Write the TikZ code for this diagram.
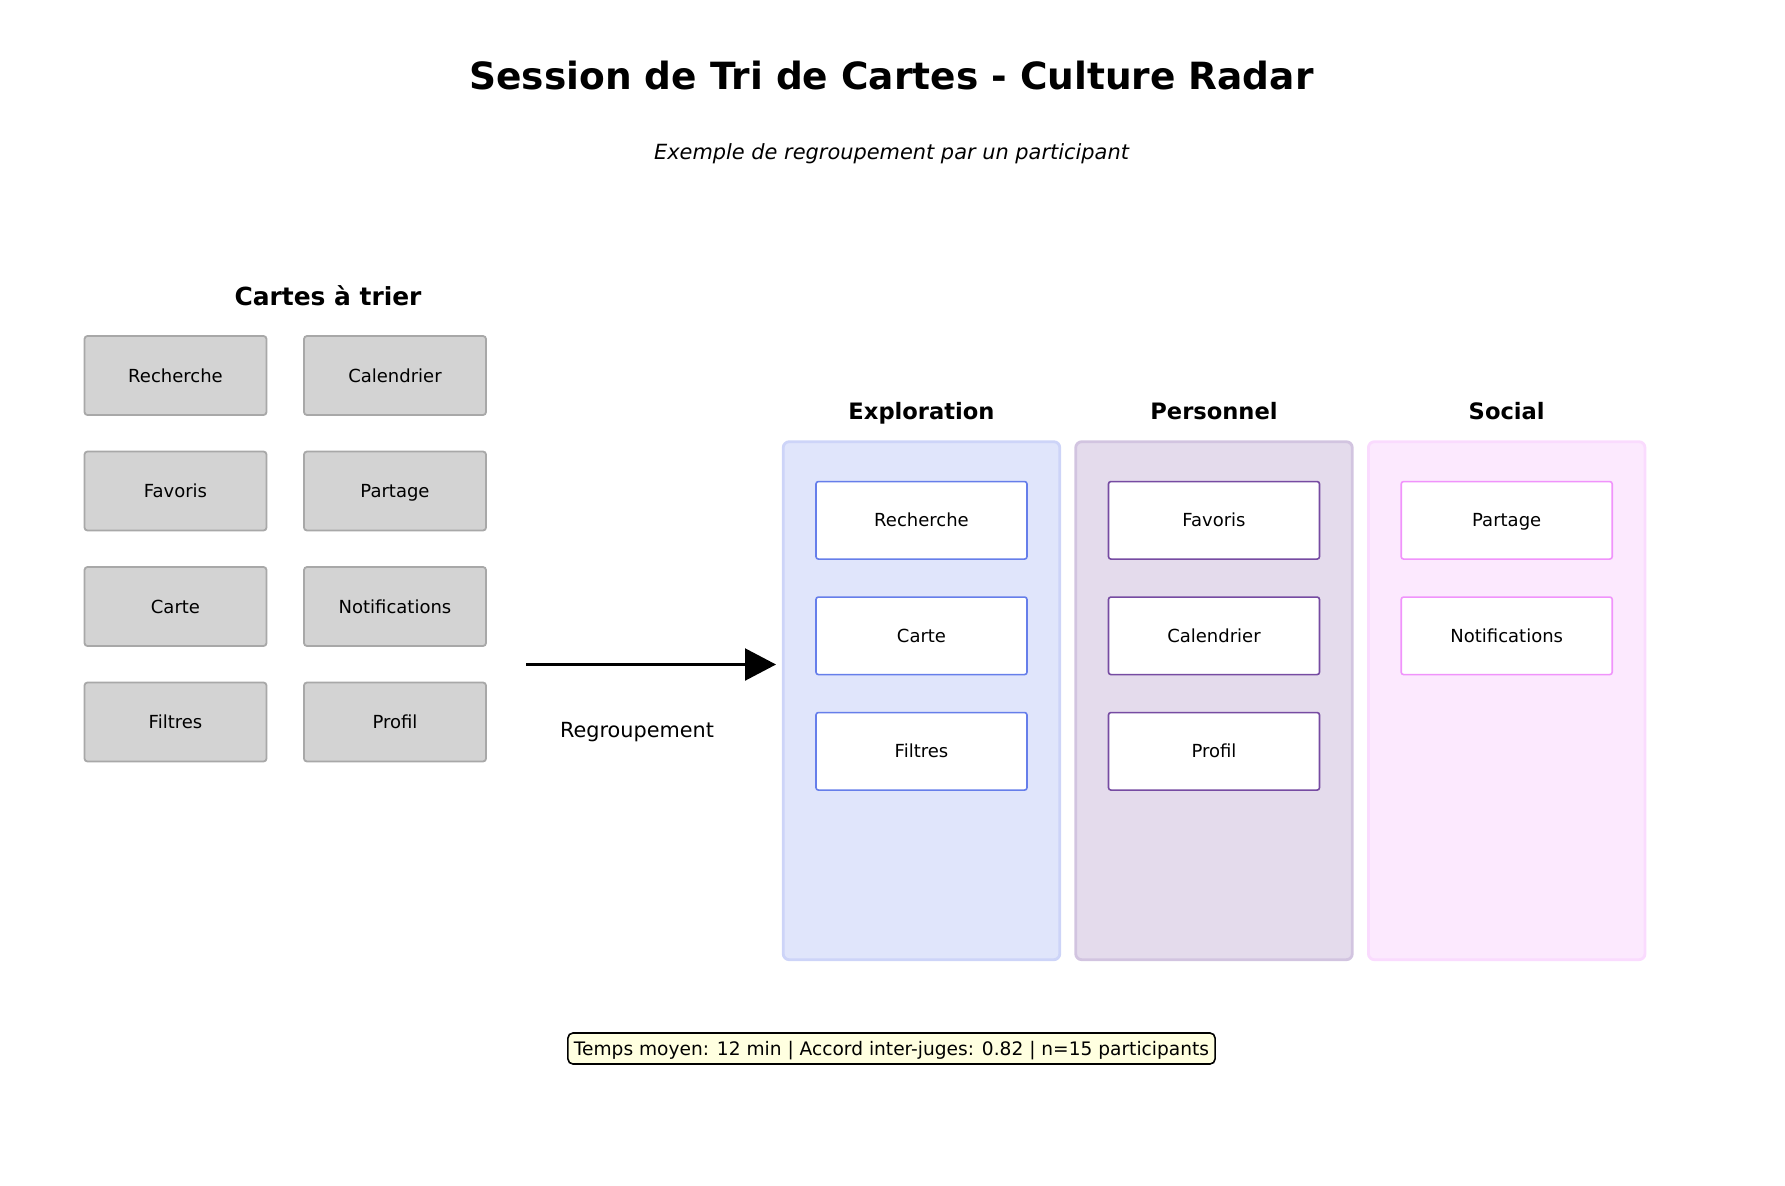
\documentclass[tikz,border=0pt]{standalone}
\usepackage{fontspec}
\setmainfont{DejaVu Sans}
\usetikzlibrary{arrows.meta}

\definecolor{explo}{HTML}{667EEA}
\definecolor{perso}{HTML}{764BA2}
\definecolor{soc}{HTML}{F093FB}
\definecolor{cardgray}{HTML}{D3D3D3}
\definecolor{cardedge}{HTML}{A8A8A8}
\definecolor{notefill}{HTML}{FFFFE0}

\tikzset{
  % labels are centred on their cap height, whatever their descenders
  label/.style 2 args={font=\fontsize{#1}{#1}\selectfont#2, inner sep=0pt,
    text height=0.729*#1 pt, text depth=0pt},
  rawcard/.style={draw=cardedge, fill=cardgray, line width=0.9pt, rounded corners=1.5pt,
    minimum width=91pt, minimum height=39.5pt, inner sep=0pt, outer sep=0pt,
    label={9}{}},
  group/.style={draw=#1!33, fill=#1!20, line width=1.4pt, rounded corners=3pt,
    minimum width=138.3pt, minimum height=259pt, inner sep=0pt, outer sep=0pt},
  sorted/.style={draw=#1, fill=white, line width=0.8pt, rounded corners=1.2pt,
    minimum width=105.5pt, minimum height=38.75pt, inner sep=0pt, outer sep=0pt,
    label={9}{}},
  grouptitle/.style={label={11.3}{\bfseries}},
}

\begin{document}
\begin{tikzpicture}[x=0.5pt, y=-0.5pt]
\useasboundingbox (0,0) rectangle (1785,1185);

% headings
\node[label={18.75}{\bfseries}] (title) at (891.5,76) {Session de Tri de Cartes - Culture Radar};
\node[label={10.45}{\itshape}] (subtitle) at (891.5,152) {Exemple de regroupement par un participant};

% unsorted cards
\node[label={12.45}{\bfseries}] (pile) at (328,296) {Cartes à trier};
\node[rawcard] (u1) at (175.5,375.5) {Recherche};
\node[rawcard] (u2) at (395,375.5) {Calendrier};
\node[rawcard] (u3) at (175.5,491) {Favoris};
\node[rawcard] (u4) at (395,491) {Partage};
\node[rawcard] (u5) at (175.5,606.5) {Carte};
\node[rawcard] (u6) at (395,606.5) {Notifications};
\node[rawcard] (u7) at (175.5,722) {Filtres};
\node[rawcard] (u8) at (395,722) {Profil};

% grouping arrow
\coordinate (arrS) at (526,664.5);
\coordinate (arrE) at (776,664.5);
\draw[line width=1.1pt, -{Triangle[length=15.5pt,width=16pt]}] (arrS) -- (arrE);
\node[label={10.4}{}] (arrlabel) at (637,730) {Regroupement};

% groups
\node[group=explo] (g1) at (921.5,700.7) {};
\node[group=perso] (g2) at (1214,700.7) {};
\node[group=soc] (g3) at (1506.7,700.7) {};

\node[grouptitle] (t1) at (921.5,411) {Exploration};
\node[grouptitle] (t2) at (1214,411) {Personnel};
\node[grouptitle] (t3) at (1506.7,411) {Social};

\node[sorted=explo] (s11) at (921.5,520.3) {Recherche};
\node[sorted=explo] (s12) at (921.5,635.8) {Carte};
\node[sorted=explo] (s13) at (921.5,751.3) {Filtres};

\node[sorted=perso] (s21) at (1214,520.3) {Favoris};
\node[sorted=perso] (s22) at (1214,635.8) {Calendrier};
\node[sorted=perso] (s23) at (1214,751.3) {Profil};

\node[sorted=soc] (s31) at (1506.7,520.3) {Partage};
\node[sorted=soc] (s32) at (1506.7,635.8) {Notifications};

% summary note
\node[draw=black, fill=notefill, line width=0.8pt, rounded corners=2.5pt,
  label={9.3}{}, inner xsep=3pt, inner ysep=0pt, minimum height=15.5pt] (note) at (891.5,1048.5)
  {Temps moyen: 12 min | Accord inter-juges: 0.82 | n=15 participants};
\end{tikzpicture}
\end{document}
